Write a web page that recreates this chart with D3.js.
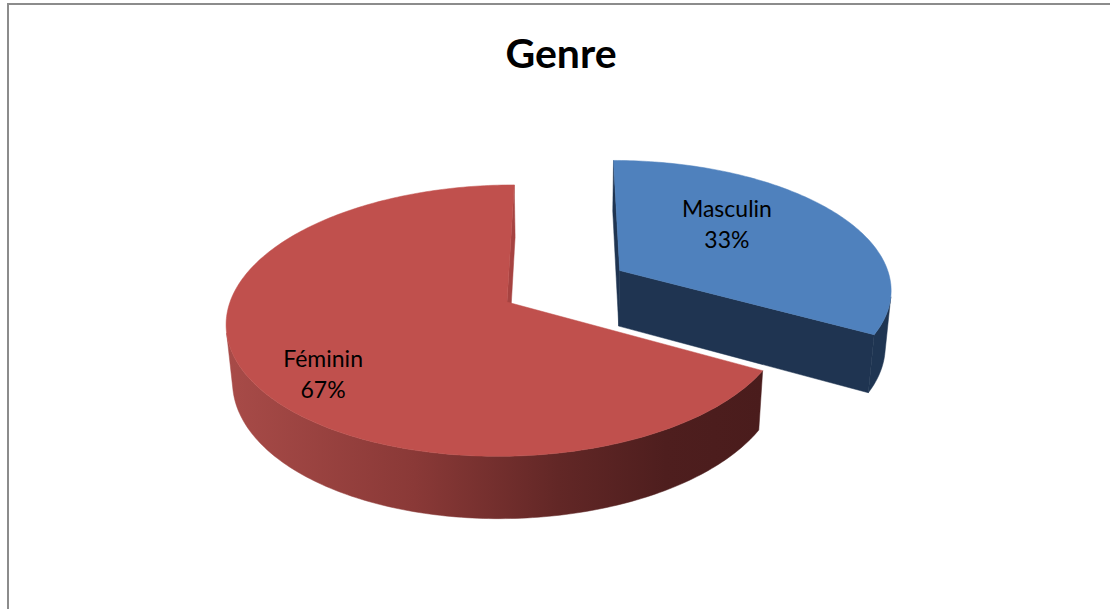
<!DOCTYPE html>
<html>
<head>
<meta charset="utf-8">
<script src="https://cdn.jsdelivr.net/npm/d3@7"></script>
<style>
  html, body { margin: 0; padding: 0; background: #ffffff; }
  svg { display: block; }
</style>
</head>
<body>
<script>
// Gender split, drawn as an exploded 3-D pie
const chartTitle = "Genre";
const categories = ["Masculin", "Féminin"];
const values = [33, 67];
const percentLabels = ["33%", "67%"];
const topColors = ["#4F81BD", "#C0504D"];
const explodeFactor = [0.48, 0];

const W = 1110, H = 609;
const svg = d3.select("body").append("svg").attr("width", W).attr("height", H);
const defs = svg.append("defs");

// chart frame
svg.append("rect")
  .attr("x", 8).attr("y", 4).attr("width", W + 20).attr("height", H + 20)
  .attr("fill", "#ffffff").attr("stroke", "#8c8c8c").attr("stroke-width", 2);

svg.append("text")
  .attr("x", 561).attr("y", 68)
  .attr("text-anchor", "middle")
  .attr("font-family", "Lato, 'Open Sans', sans-serif")
  .attr("font-weight", 700).attr("font-size", 41)
  .attr("fill", "#000")
  .text(chartTitle);

// camera: 30° elevation, mild perspective, optical axis offset from the pie centre
const phi = 30 * Math.PI / 180;
const D = 1750, R = 277, depth = 66;
const centre = [507, 302];
const axisShift = [60, 39];

function proj(X, Yd, Z) {
  const w = Yd * Math.cos(phi) + Z * Math.sin(phi);
  const dv = Yd * Math.sin(phi) - Z * Math.cos(phi);
  const s = D / (D - w);
  return [centre[0] + axisShift[0] + (X - axisShift[0]) * s,
          centre[1] + axisShift[1] + (dv - axisShift[1]) * s];
}

const pie = d3.pie().sort(null).startAngle(0).endAngle(2 * Math.PI).value(d => d);
const arcs = pie(values);

function signedArea(pts) {
  let a = 0;
  for (let i = 0; i < pts.length; i++) {
    const p = pts[i], q = pts[(i + 1) % pts.length];
    a += p[0] * q[1] - q[0] * p[1];
  }
  return a / 2;
}
const line = d3.line().curve(d3.curveLinearClosed);

const slices = arcs.map((a, i) => {
  const mid = (a.startAngle + a.endAngle) / 2;
  const e = explodeFactor[i] * R;
  const ox = e * Math.sin(mid), oy = -e * Math.cos(mid);
  const rim = (t, z) => proj(ox + R * Math.sin(t), oy - R * Math.cos(t), z);
  const vtx = z => proj(ox, oy, z);
  return { a, i, mid, ox, oy, rim, vtx };
});

const wallColors = [
  [["0", "#1F3552"], ["1", "#1F3552"]],
  [["0", "#A84B48"], ["0.35", "#8A3937"], ["0.62", "#622726"], ["0.82", "#4E1E1E"], ["1", "#4A1C1C"]]
];
const sideColors = ["#1F3451", "#A64341"];

// reference winding of a face seen from the front
const refSign = Math.sign(signedArea(
  [slices[1].vtx(0)].concat(d3.range(0, 21).map(k => slices[1].rim(slices[1].a.startAngle + k * (slices[1].a.endAngle - slices[1].a.startAngle) / 20, 0)))
));
const visible = pts => Math.sign(signedArea(pts)) === refSign && Math.abs(signedArea(pts)) > 0.01;

// back slice first
const order = slices.slice().sort((p, q) => p.oy - q.oy);

order.forEach(sl => {
  const { a, i, rim, vtx } = sl;
  const g = svg.append("g");
  const n = Math.max(8, Math.round((a.endAngle - a.startAngle) / (Math.PI / 180)));
  const angles = d3.range(n + 1).map(k => a.startAngle + k * (a.endAngle - a.startAngle) / n);

  // radial cut faces
  const startFace = [rim(a.startAngle, 0), vtx(0), vtx(-depth), rim(a.startAngle, -depth)];
  const endFace = [vtx(0), rim(a.endAngle, 0), rim(a.endAngle, -depth), vtx(-depth)];
  [startFace, endFace].forEach(f => {
    if (visible(f)) g.append("path").attr("d", line(f)).attr("fill", sideColors[i])
      .attr("stroke", sideColors[i]).attr("stroke-width", 0.5);
  });

  // outer wall: collect runs of front-facing segments
  const runs = [];
  let cur = null;
  for (let k = 0; k < n; k++) {
    const t1 = angles[k], t2 = angles[k + 1];
    const quad = [rim(t2, 0), rim(t1, 0), rim(t1, -depth), rim(t2, -depth)];
    if (visible(quad)) {
      if (!cur) { cur = [t1]; runs.push(cur); }
      cur.push(t2);
    } else cur = null;
  }
  runs.forEach((run, r) => {
    const pts = run.map(t => rim(t, 0)).concat(run.slice().reverse().map(t => rim(t, -depth)));
    const xs = pts.map(p => p[0]);
    const gid = `wall-${i}-${r}`;
    const grad = defs.append("linearGradient").attr("id", gid)
      .attr("gradientUnits", "userSpaceOnUse")
      .attr("x1", d3.min(xs)).attr("x2", d3.max(xs)).attr("y1", 0).attr("y2", 0);
    wallColors[i].forEach(([o, c]) => grad.append("stop").attr("offset", o).attr("stop-color", c));
    g.append("path").attr("d", line(pts)).attr("fill", `url(#${gid})`)
      .attr("stroke", `url(#${gid})`).attr("stroke-width", 0.5);
  });

  // top face
  const top = [vtx(0)].concat(angles.map(t => rim(t, 0)));
  g.append("path").attr("d", line(top)).attr("fill", topColors[i])
    .attr("stroke", topColors[i]).attr("stroke-width", 0.5);
});

// data labels
const labelPlace = [{ fx: 0.5, fy: 0.75 }, { fx: 0.7, fy: 1.0 }];
slices.forEach(sl => {
  const { i, mid, ox, oy } = sl;
  const lp = labelPlace[i];
  const p = proj(ox + lp.fx * R * Math.sin(mid), oy - lp.fy * R * Math.cos(mid), 0);
  const t = svg.append("text")
    .attr("text-anchor", "middle")
    .attr("font-family", "Lato, 'Open Sans', sans-serif")
    .attr("font-size", 23).attr("fill", "#000");
  t.append("tspan").attr("x", p[0]).attr("y", p[1] - 8).text(categories[i]);
  t.append("tspan").attr("x", p[0]).attr("y", p[1] + 23).text(percentLabels[i]);
});
</script>
</body>
</html>
